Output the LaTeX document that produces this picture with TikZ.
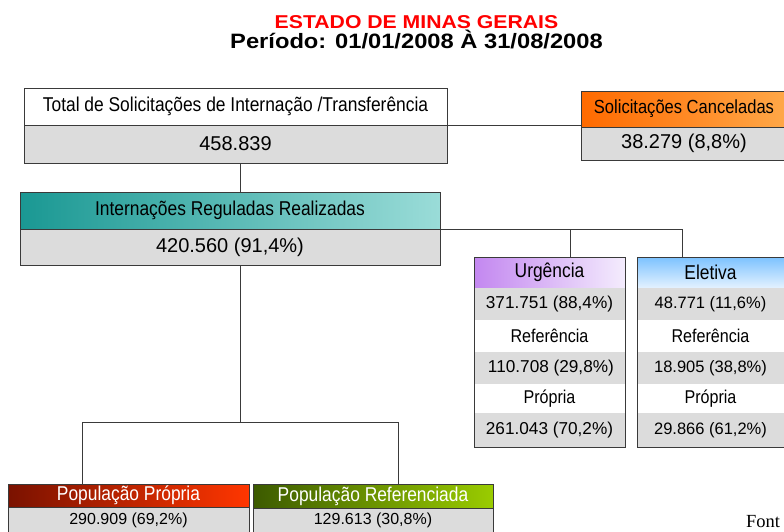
\documentclass[tikz,border=0pt]{standalone}
\usepackage{fontspec}
\setmainfont{Liberation Sans}
\newfontfamily\narrowfont[FakeStretch=0.87]{Liberation Sans}
\newfontfamily\widefont[FakeStretch=1.14]{Liberation Sans}
\newfontfamily\serifont{Liberation Serif}
\definecolor{cellgray}{HTML}{DCDCDC}
\definecolor{edgegray}{HTML}{3A3A3A}
\definecolor{titlered}{HTML}{FF0000}
\definecolor{tealA}{HTML}{1A9893}
\definecolor{tealB}{HTML}{9ADCD8}
\definecolor{orangeA}{HTML}{FF6A00}
\definecolor{orangeB}{HTML}{FFA848}
\definecolor{purpA}{HTML}{C387F0}
\definecolor{purpB}{HTML}{F4ECFD}
\definecolor{blueA}{HTML}{7CC2FF}
\definecolor{blueB}{HTML}{E4F2FF}
\definecolor{redA}{HTML}{7A1200}
\definecolor{redB}{HTML}{FF3600}
\definecolor{greenA}{HTML}{3C5A00}
\definecolor{greenB}{HTML}{9ACC00}
\begin{document}
\begin{tikzpicture}[x=1pt,y=-1pt,
  cell/.style={inner sep=0pt, outer sep=0pt, anchor=north west},
  hdr/.style={cell, draw=edgegray, line width=0.9pt, font=\narrowfont\fontsize{20}{22}\selectfont},
  val/.style={cell, draw=edgegray, line width=0.9pt, fill=cellgray, font=\fontsize{20}{22}\selectfont},
  row/.style={cell, fill=cellgray, font=\fontsize{17.2}{19}\selectfont},
  rowlbl/.style={cell, fill=white, font=\narrowfont\fontsize{18.5}{20}\selectfont},
  frame/.style={draw=edgegray, line width=0.9pt},
  conn/.style={draw=edgegray, line width=0.9pt}]
\useasboundingbox (0,0) rectangle (784,531);
\clip (0,0) rectangle (784,531);

% title (two lines in one node)
\node[anchor=base, align=center, inner sep=0pt, font=\widefont\bfseries] (title) at (416.5,48)
  {{\color{titlered}\fontsize{18.6}{18}\selectfont ESTADO DE MINAS GERAIS}\\[0pt]
   {\fontsize{20.8}{18}\selectfont Período: 01/01/2008 À 31/08/2008}};

% total
\node[hdr, fill=white, minimum width=423pt, minimum height=37pt] (toth) at (24,88) {Total de Solicitações de Internação /Transferência};
\node[val, minimum width=423pt, minimum height=38pt] (totv) at (24,125) {458.839};

% canceladas
\node[hdr, left color=orangeA, right color=orangeB, minimum width=206pt, minimum height=36pt, font=\narrowfont\fontsize{19}{21}\selectfont] (canh) at (581,91) {Solicitações Canceladas};
\node[val, minimum width=206pt, minimum height=33pt] (canv) at (581,127) {38.279 (8,8\%)};

% internacoes
\node[hdr, left color=tealA, right color=tealB, minimum width=420pt, minimum height=37pt] (inth) at (20,192) {Internações Reguladas Realizadas};
\node[val, minimum width=420pt, minimum height=36pt] (intv) at (20,229) {420.560 (91,4\%)};

% urgencia column
\node[cell, left color=purpA, right color=purpB, minimum width=151pt, minimum height=31pt, font=\narrowfont\fontsize{20}{22}\selectfont] (urgh) at (474,257) {Urgência};
\node[row, minimum width=151pt, minimum height=32pt] (urg1) at (474,288) {371.751 (88,4\%)};
\node[rowlbl, minimum width=151pt, minimum height=32pt] (urg2) at (474,320) {Referência};
\node[row, minimum width=151pt, minimum height=32pt] (urg3) at (474,352) {\,110.708 (29,8\%)};
\node[rowlbl, minimum width=151pt, minimum height=29pt] (urg4) at (474,384) {Própria};
\node[row, minimum width=151pt, minimum height=34pt] (urg5) at (474,413) {261.043 (70,2\%)};
\draw[frame] (urgh.north west) rectangle (urg5.south east);

% eletiva column
\node[cell, top color=blueA, bottom color=blueB, minimum width=147pt, minimum height=31pt, font=\narrowfont\fontsize{20}{22}\selectfont] (eleh) at (637,257) {Eletiva};
\node[row, minimum width=147pt, minimum height=32pt, font=\fontsize{16.5}{18}\selectfont] (ele1) at (637,288) {48.771 (11,6\%)};
\node[rowlbl, minimum width=147pt, minimum height=32pt] (ele2) at (637,320) {Referência};
\node[row, minimum width=147pt, minimum height=32pt, font=\fontsize{16.5}{18}\selectfont] (ele3) at (637,352) {18.905 (38,8\%)};
\node[rowlbl, minimum width=147pt, minimum height=29pt] (ele4) at (637,384) {Própria};
\node[row, minimum width=147pt, minimum height=34pt, font=\fontsize{16.5}{18}\selectfont] (ele5) at (637,413) {29.866 (61,2\%)};
\draw[frame] (eleh.north west) rectangle ([xshift=20pt]ele5.south east);

% populacao
\node[hdr, left color=redA, right color=redB, text=white, minimum width=241pt, minimum height=23pt] (pph) at (8,484) {População Própria};
\node[val, minimum width=241pt, minimum height=28pt, font=\fontsize{16}{18}\selectfont] (ppv) at (8,507) {\raisebox{5pt}{290.909 (69,2\%)}};
\node[hdr, left color=greenA, right color=greenB, text=white, minimum width=240pt, minimum height=24pt] (prh) at (253,484) {População Referenciada};
\node[val, minimum width=240pt, minimum height=27pt, font=\fontsize{16}{18}\selectfont] (prv) at (253,508) {\raisebox{5pt}{129.613 (30,8\%)}};

% source
\node[anchor=base west, inner sep=0pt, font=\serifont\fontsize{18.5}{21}\selectfont] (src) at (746,527) {Font};

% connectors
\coordinate (spine) at (240,0);
\coordinate (brU) at (570,229);
\coordinate (brE) at (682,229);
\coordinate (bl) at (82,422);
\coordinate (br) at (398,422);
\draw[conn] (toth.south east) -- (toth.south east -| canh.west);
\draw[conn] (totv.south -| spine) -- (inth.north -| spine);
\draw[conn] (inth.south east) -- (brE) -- (brE |- eleh.north);
\draw[conn] (brU) -- (brU |- urgh.north);
\draw[conn] (intv.south -| spine) -- (bl -| spine);
\draw[conn] (bl |- pph.north) -- (bl) -- (br) -- (br |- prh.north);
\end{tikzpicture}
\end{document}
